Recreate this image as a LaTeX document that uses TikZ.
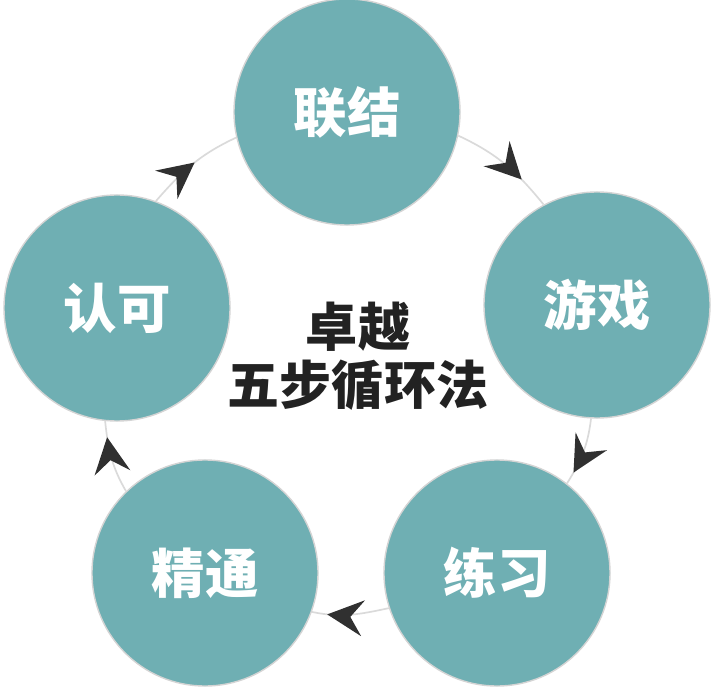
\documentclass[tikz,border=0pt]{standalone}
\usepackage{fontspec}
\newfontfamily\cjk{Noto Sans CJK SC}
\usetikzlibrary{arrows.meta,decorations.markings}
\definecolor{cyclefill}{HTML}{6FAFB3}
\definecolor{ringgray}{HTML}{D4D4D4}
\definecolor{linegray}{HTML}{DADADA}
\definecolor{arrowdark}{HTML}{303030}
\definecolor{titledark}{HTML}{222222}

\begin{document}
\begin{tikzpicture}[x=0.025cm,y=0.025cm,
    stage/.style={circle,fill=cyclefill,draw=ringgray,line width=1pt,
      minimum size=5.65cm,inner sep=0pt,text=white,
      font=\cjk\bfseries\fontsize{38}{44}\selectfont},
    flow/.style={draw=linegray,line width=1.2pt,postaction={decorate},
      decoration={markings,mark=at position #1 with
        {\arrow[arrowdark]{Stealth[length=0.9cm,width=0.9cm,inset=0.32cm]}}}}]
  \useasboundingbox (0,0) rectangle (711,686);
  % five stages, clockwise from the top
  \node[stage] (link) at (347,574) {联结};
  \node[stage] (game) at (597,381) {游戏};
  \node[stage] (drill) at (497,113) {练习};
  \node[stage] (master) at (205,113) {精通};
  \node[stage] (accept) at (117,378) {认可};
  \node[font=\cjk\bfseries\fontsize{37}{41}\selectfont,text=titledark,align=center]
    (title) at (358,330) {卓越\\五步循环法};
  % cycle arrows, along the ring
  \draw[flow=0.7] (link.-12) to[out=-25,in=129] (game.118);
  \draw[flow=0.82] (game.-93) to[out=-97,in=58] (drill.52);
  \draw[flow=0.8] (drill.198) to[out=192,in=-12] (master.-20);
  \draw[flow=0.78] (master.134) to[out=120,in=-84] (accept.-96);
  \draw[flow=0.53] (accept.70) to[out=49,in=205] (link.193);
\end{tikzpicture}
\end{document}
